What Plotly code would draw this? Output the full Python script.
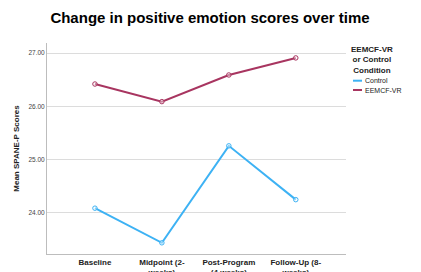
import plotly.graph_objects as go

categories = ["Baseline", "Midpoint (2-<br>weeks)", "Post-Program<br>(4 weeks)", "Follow-Up (8-<br>weeks)"]
control = [24.09, 23.44, 25.26, 24.25]
eemcf = [26.42, 26.09, 26.59, 26.91]
y_ticks = [24, 25, 26, 27]
y_labels = ["24.00", "25.00", "26.00", "27.00"]

c_control = "#3DB2F4"
c_eemcf = "#A83560"

fig = go.Figure()
fig.add_trace(go.Scatter(x=categories, y=control, mode="lines+markers", name="Control",
                         line=dict(color=c_control, width=2),
                         marker=dict(size=4.5, color="rgba(255,255,255,0.4)", line=dict(color=c_control, width=1))))
fig.add_trace(go.Scatter(x=categories, y=eemcf, mode="lines+markers", name="EEMCF-VR",
                         line=dict(color=c_eemcf, width=2),
                         marker=dict(size=4.5, color="rgba(255,255,255,0.4)", line=dict(color=c_eemcf, width=1))))

# page body adds an 8px offset; figure sized to fit the 421x272 window
W, H = 413, 264
font = "Liberation Sans, Arial, sans-serif"
fig.update_layout(
    width=W, height=H,
    margin=dict(l=39, r=75, t=35, b=18),
    paper_bgcolor="white", plot_bgcolor="white",
    showlegend=False,
    title=dict(text="<b>Change in positive emotion scores over time</b>", x=(210 - 8) / W, xanchor="center",
               y=(H - 10) / H, yanchor="middle", font=dict(family=font, size=15, color="black")),
    xaxis=dict(range=[-0.716, 3.75], showgrid=False, showline=True, linecolor="#bdbdbd", linewidth=1,
               ticks="", tickfont=dict(family=font, size=8, color="#222"), tickprefix="<b>", ticksuffix="</b>",
               fixedrange=True, automargin=False),
    yaxis=dict(range=[23.23, 27.19], tickvals=y_ticks, ticktext=y_labels, showgrid=True,
               gridcolor="#dcdcdc", gridwidth=1, showline=True, linecolor="#bdbdbd", linewidth=1,
               zeroline=False, ticks="", tickfont=dict(family=font, size=6.5, color="#444"),
               automargin=False,
               title=dict(text="<b>Mean SPANE-P Scores</b>", font=dict(family=font, size=8, color="#222"),
                          standoff=7)),
)

# manual legend
fig.add_annotation(xref="paper", yref="paper", x=(372 - 47) / 299, y=(254 - 60) / 211,
                   text="<b>EEMCF-VR<br>or Control<br>Condition</b>", showarrow=False,
                   font=dict(family=font, size=8, color="#222"), xanchor="center", yanchor="middle", align="center")
for i, (nm, col) in enumerate([("Control", c_control), ("EEMCF-VR", c_eemcf)]):
    yy = (254 - (80.7 + 9.3 * i)) / 211
    fig.add_shape(type="line", xref="paper", yref="paper", x0=(353 - 47) / 299, x1=(362 - 47) / 299,
                  y0=yy, y1=yy, line=dict(color=col, width=2))
    fig.add_annotation(xref="paper", yref="paper", x=(363 - 47) / 299, y=yy, text=nm, showarrow=False,
                       font=dict(family=font, size=7, color="#222"), xanchor="left", yanchor="middle")

fig.write_html("out.html")
